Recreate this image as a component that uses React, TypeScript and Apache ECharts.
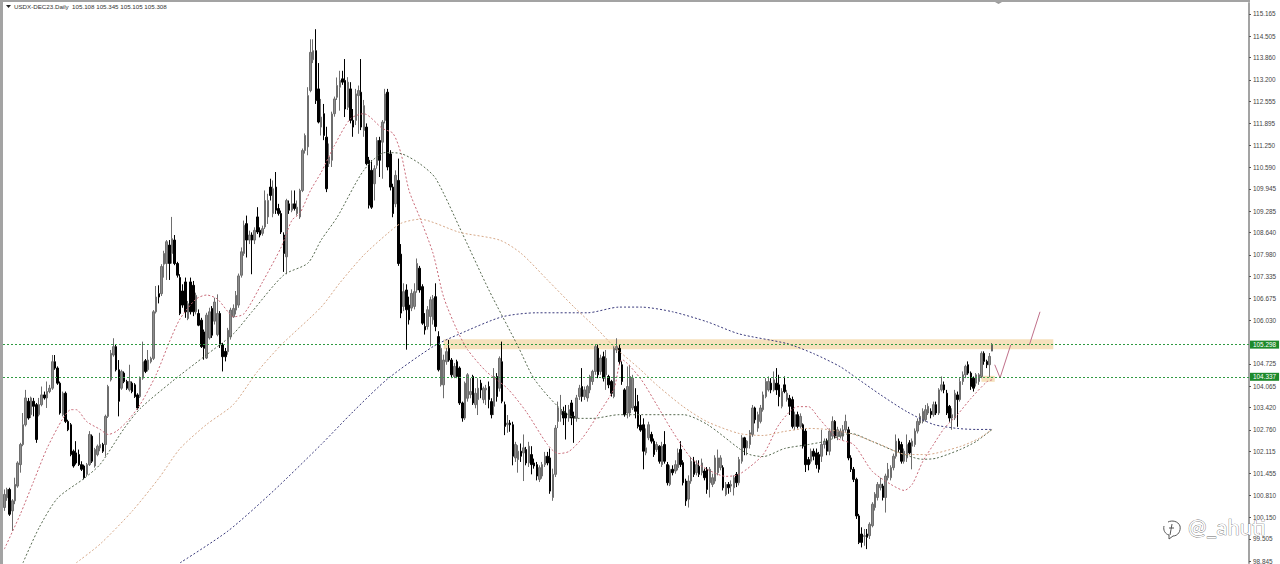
import React, { useEffect, useRef } from "react";
import * as echarts from "echarts";

const title = "USDX-DEC23.Daily  105.108 105.345 105.105 105.308";
const tickLabels = ["115.165","114.505","113.860","113.200","112.555","111.895","111.250","110.590","109.945","109.285","108.640","107.980","107.335","106.675","106.030","104.725","104.065","103.420","102.760","102.115","101.455","100.810","100.150","99.505","98.845"];
const levels = [105.298, 104.337];
const watermark = "@_ahuti";

// open, close, low, high
const candlesRise1 = [
[100.44,100.83,100.34,100.98],[100.73,100.98,100.64,101.03],[100.98,100.24,100.19,101.03],[100.34,100.64,99.74,100.69],[100.64,101.13,100.54,101.33],[101.08,101.77,101.03,101.82],[101.72,102.32,101.48,102.37],[102.32,102.91,102.27,103.26],[102.91,103.71,102.86,103.95],[103.61,103.11,103.06,103.71],
[103.21,103.71,103.11,103.75],[103.61,103.46,103.16,103.71],[103.51,102.47,102.37,103.56],[103.21,103.51,103.16,103.71],[103.51,103.80,103.46,104.05],[103.80,103.71,103.66,103.90],[103.71,103.90,103.41,104.20],[103.90,104.00,103.85,104.10],[104.00,104.79,103.95,104.99],[104.79,104.60,104.55,104.99],
[104.60,104.15,104.10,104.65],[104.15,103.26,103.21,104.20],[103.21,103.85,103.16,103.90],[103.85,103.01,102.96,103.90],[103.01,102.76,102.72,103.06],[102.91,102.02,101.97,102.96],[102.12,101.68,101.63,102.17],[102.07,101.77,101.72,102.42],[102.02,101.72,101.68,102.17],[101.72,101.58,101.53,101.82],
[101.68,101.33,101.28,101.72],[101.43,101.72,101.38,101.77],[101.72,102.62,101.68,102.72],[102.57,101.82,101.77,102.62],[101.68,102.17,101.63,102.22],[102.02,102.27,101.97,102.32],[102.22,102.32,102.12,102.67],[102.32,102.12,102.07,102.37],[102.32,103.16,101.97,103.21],[103.16,104.05,103.11,104.10],
[104.25,105.04,104.20,105.14],[104.99,105.24,104.94,105.49],[105.24,104.55,104.50,105.29],[104.55,103.61,103.16,104.84],[104.00,104.50,103.95,104.55],[104.45,104.20,104.15,104.50],[104.20,104.00,103.95,104.25],[103.95,104.20,103.90,104.70],[104.15,103.90,103.85,104.20],[104.10,103.75,103.71,104.15],
[103.80,103.41,103.36,103.85],[103.75,104.30,103.71,104.35],[104.30,104.79,104.25,105.39],[104.82,104.50,104.45,104.87],[104.55,104.84,104.50,105.14],[104.79,104.89,104.74,104.94],[104.89,106.28,104.84,106.33],[106.28,106.72,106.23,107.05],[106.82,106.72,106.53,107.07],[106.82,107.63,106.75,107.70],
];
const candlesRise2 = [
[107.70,108.02,107.30,108.10],[107.72,108.37,107.23,108.42],[108.27,107.72,107.23,108.42],[108.02,108.46,107.72,109.11],[108.42,107.72,107.67,108.57],[107.72,107.37,107.30,107.77],[107.30,106.23,106.18,107.40],[106.90,106.48,106.40,107.10],[107.17,106.28,106.10,107.30],[106.08,106.52,106.03,106.60],
[107.17,106.28,106.20,107.30],[107.07,106.28,106.15,107.20],[106.28,106.77,106.20,106.85],[106.23,105.88,105.85,106.35],[106.03,105.24,105.20,106.10],[105.68,105.19,104.85,105.75],[104.90,106.18,104.87,106.25],[105.50,106.28,105.45,106.40],[106.38,105.58,105.50,106.45],[106.00,106.57,105.90,106.70],
[105.60,106.23,105.55,106.80],[106.23,105.29,105.20,106.30],[105.29,104.94,104.50,105.35],[105.10,104.94,104.80,105.20],[105.09,105.73,105.00,105.80],[105.53,106.33,105.45,106.40],[106.13,106.38,106.10,106.50],[106.33,106.77,106.20,106.90],[106.48,107.35,106.40,107.42],[107.37,108.07,107.30,108.20],
[108.02,108.86,107.95,109.00],[108.91,108.42,107.90,109.15],[108.42,108.57,108.30,108.70],[108.57,108.42,107.40,108.65],[108.42,108.71,108.30,108.80],[109.11,108.66,108.60,109.40],[108.71,108.57,108.50,108.80],[108.62,108.76,108.55,108.85],[108.81,109.60,108.75,109.90],[109.11,109.60,108.90,109.80],
[110.00,109.75,109.60,110.25],[109.21,109.95,109.10,110.20],[110.00,109.31,109.20,110.45],[109.36,109.21,109.15,109.50],[109.21,108.66,108.60,109.30],[108.57,108.02,107.47,108.65],[107.92,109.60,107.40,109.65],[109.50,109.31,109.20,109.60],[109.31,109.50,109.25,109.90],[109.50,109.36,109.30,109.90],
[109.21,109.40,109.15,109.60],[109.11,109.90,109.05,109.95],[109.90,111.09,109.85,111.15],[111.09,111.54,111.00,111.60],[111.20,112.73,110.95,112.98],[112.88,114.02,112.83,114.41],[113.80,114.07,113.70,114.41],[114.07,112.58,112.48,114.71],[112.93,111.94,111.90,113.70],[111.79,112.09,111.54,112.63],
];
const candlesTop = [
[112.19,111.54,111.40,112.48],[111.49,109.95,109.85,111.80],[110.70,110.90,110.60,111.30],[110.80,112.18,110.60,112.25],[112.19,112.63,112.10,112.70],[112.68,113.03,112.60,113.27],[112.98,113.18,112.28,113.47],[113.23,113.13,113.05,113.47],[113.18,112.33,112.09,113.82],[112.38,113.13,112.30,113.28],
[112.93,111.99,111.90,113.13],[111.99,111.79,111.50,112.33],[111.99,112.78,111.85,112.93],[112.73,112.88,111.59,113.03],[112.83,111.79,111.70,113.82],[111.69,112.43,111.50,112.60],[111.79,110.70,110.65,111.90],[110.80,109.46,109.36,110.90],[110.50,109.40,109.35,110.80],[110.10,110.55,109.60,110.65],
[110.65,111.39,110.55,111.49],[111.39,110.80,110.30,111.50],[111.34,111.94,110.25,112.00],[111.99,112.78,111.90,112.93],[112.83,110.60,110.50,112.93],[110.99,110.00,109.90,111.10],[110.00,109.21,109.10,110.10],[109.50,110.35,109.40,110.50],[110.20,107.72,107.65,110.85],[108.00,106.24,106.09,108.30],
[106.44,106.88,106.30,107.13],[106.93,106.34,105.15,107.10],[106.48,106.04,105.90,106.73],[106.39,106.83,106.30,106.95],[106.44,106.88,106.35,107.13],[106.93,107.72,106.85,107.87],[107.58,106.93,106.85,107.65],[107.03,105.94,105.89,107.10],[105.84,105.74,105.60,106.24],[105.84,106.34,105.75,106.45],
[106.14,106.64,105.25,106.73],[106.04,106.68,105.90,106.78],[106.73,105.84,105.70,107.13],
];
const candlesRange1 = [
[105.54,104.55,104.50,105.70],[104.10,105.19,104.05,105.30],[104.10,104.84,103.70,105.00],[104.79,105.09,104.70,105.20],[105.19,104.84,104.79,105.44],[104.84,104.40,104.30,104.90],[104.35,104.65,104.30,104.75],[104.79,104.35,104.30,104.85],[104.60,103.56,103.50,104.65],[103.56,103.11,103.00,103.60],
[103.11,104.15,103.05,104.20],[103.70,104.40,103.60,104.45],[103.81,103.90,103.70,104.30],[104.35,103.56,103.50,104.40],[103.51,103.85,103.40,104.00],[103.66,104.00,103.20,104.30],[104.15,103.95,103.70,104.25],[103.66,104.00,103.55,104.05],[103.95,104.00,103.50,104.10],[104.05,103.66,103.40,104.20],
[103.60,103.21,103.10,103.70],[103.46,104.35,103.20,104.60],[104.35,103.75,103.60,104.45],[104.00,104.89,103.90,104.95],[104.79,103.61,103.55,105.39],[103.51,102.86,102.60,103.60],[102.91,102.96,102.67,103.20],[102.96,102.91,102.70,103.05],[102.91,101.97,101.70,103.00],[101.92,102.32,101.80,102.40],
[101.87,102.12,101.48,102.30],[102.12,101.97,101.80,102.35],[102.07,102.22,101.23,102.62],[102.17,101.77,101.70,102.25],[101.77,102.27,101.65,102.40],[102.02,101.72,101.43,102.27],[101.77,101.68,101.60,101.90],[101.72,101.38,101.25,101.80],[101.28,101.63,101.20,101.70],[101.38,101.72,101.30,101.80],
[101.72,101.97,101.65,102.10],[101.97,101.77,101.70,102.10],[101.92,100.93,100.85,102.20],[100.74,101.43,100.64,101.60],[101.43,102.81,101.35,102.90],
];
const candlesRange2 = [
[103.01,103.41,102.81,103.60],[103.21,103.36,103.00,103.80],[103.31,103.11,102.90,103.45],[103.26,103.11,102.47,103.50],[103.11,103.36,103.00,103.50],[103.56,103.11,102.90,103.65],[103.16,103.11,102.37,103.30],[103.11,103.71,103.00,103.80],[103.75,104.00,103.65,104.10],[104.05,103.75,103.60,104.60],
[103.75,103.95,103.65,104.05],[103.71,104.05,103.60,104.10],[103.95,104.35,103.85,104.40],[104.20,104.50,104.10,104.55],[104.50,105.24,104.40,105.30],[105.19,104.40,104.30,105.30],[104.50,104.90,104.40,105.00],[104.94,104.30,104.20,105.09],[104.40,104.89,103.95,105.14],[104.35,104.10,104.00,104.40],
[104.20,103.85,103.75,104.25],[103.75,105.19,103.70,105.25],[105.14,105.24,105.05,105.49],[105.19,104.79,104.70,105.30],[104.70,104.20,104.10,104.80],[103.95,103.21,103.15,104.00],[103.26,104.05,103.10,104.65],[103.26,104.35,103.15,104.70],[103.41,104.30,103.35,104.40],[103.46,103.31,103.10,104.00],
[103.60,102.86,102.80,103.80],[102.90,102.75,102.70,103.20],[102.91,102.12,101.58,103.10],[102.07,102.22,102.00,102.80],[102.52,102.91,102.45,103.00],[102.62,102.42,102.35,102.70],[102.42,102.02,101.95,102.50],[102.17,102.32,102.10,102.40],[102.27,101.82,101.75,102.30],[101.72,102.27,101.65,102.40],
[102.32,101.82,101.75,102.72],[101.72,101.18,101.10,101.80],[101.13,101.58,101.08,101.70],[101.58,101.48,101.40,101.70],[101.53,101.72,101.45,101.85],[101.63,102.07,101.55,102.20],[102.17,101.72,101.65,102.42],[101.78,101.18,101.10,101.85],[101.23,100.64,100.49,101.30],[100.69,101.23,100.44,101.40],
[101.23,101.82,101.15,101.95],[101.82,101.43,101.35,101.95],[101.48,101.72,101.40,101.85],[101.67,101.43,101.35,101.85],[101.48,101.77,101.40,101.90],[101.53,101.33,101.25,101.60],[101.58,100.98,100.85,101.65],[101.18,101.58,100.74,101.65],[101.13,101.33,101.05,101.45],[101.23,101.92,101.15,102.00],
[101.48,101.92,101.40,102.17],[101.63,101.92,101.55,102.00],[101.63,101.03,100.95,101.70],[100.83,101.13,100.78,101.20],[101.13,101.03,100.85,101.20],[101.08,101.13,100.90,101.25],[101.03,101.33,100.80,101.40],[101.43,101.18,101.05,101.50],[101.18,101.87,101.10,101.95],[101.82,102.52,101.75,102.60],
];
const candlesRange3 = [
[102.52,102.22,102.00,102.55],[102.22,102.42,102.00,102.45],[102.32,102.67,102.20,102.75],[102.62,103.41,102.55,103.50],[103.41,103.06,102.95,103.45],[102.81,103.21,102.70,103.30],[103.01,103.41,102.95,103.50],[103.36,103.80,103.30,103.90],[103.75,104.20,103.70,104.30],[103.95,104.20,103.90,104.35],
[104.15,103.95,103.85,104.30],[103.95,104.25,103.90,104.50],[104.15,103.95,103.80,104.60],[104.10,103.75,103.46,104.40],[103.46,103.90,103.40,104.00],[104.10,103.90,103.85,104.35],[103.66,103.85,103.60,103.95],[103.70,103.46,103.20,103.80],[103.66,102.86,102.80,103.75],[102.86,103.21,102.75,103.30],
[103.21,102.86,102.80,103.30],[102.86,103.16,102.80,103.25],[102.91,102.27,102.20,102.95],[102.72,101.72,101.50,102.80],[101.87,101.72,101.55,101.95],[101.82,102.12,101.75,102.20],[102.12,101.97,101.85,102.20],[102.07,101.72,101.60,102.20],[102.02,101.58,101.48,102.10],[101.97,102.32,101.80,102.76],
[102.32,102.42,102.20,102.50],[102.42,102.12,102.00,102.50],[102.12,102.72,102.00,102.80],[102.57,103.01,102.50,103.16],[103.01,102.57,102.50,103.05],[102.57,102.76,102.45,102.85],[102.57,102.72,102.50,102.80],[102.57,102.76,102.45,102.90],[102.76,103.01,102.70,103.21],[102.76,101.92,101.85,102.85],
];
const candlesDip = [
[101.92,101.58,101.50,102.00],[101.58,101.28,101.20,101.65],[101.28,100.19,100.10,101.33],[100.19,99.40,99.35,100.25],[99.65,99.40,99.25,99.85],[99.58,99.60,99.30,99.80],[99.65,99.55,99.20,99.80],[99.60,99.94,99.50,100.00],[99.90,100.54,99.85,100.60],[100.44,100.84,100.35,100.90],
[100.74,101.13,100.65,101.20],[101.03,101.13,100.95,101.33],[101.08,100.74,100.65,101.15],[100.74,101.38,100.29,101.45],[101.33,101.58,101.25,101.77],[101.33,101.63,101.25,101.70],[101.63,101.97,101.55,102.05],[101.97,102.42,101.90,102.62],[102.42,102.17,102.10,102.50],[102.32,101.82,101.75,102.40],
[101.82,102.12,101.75,102.20],[101.92,102.32,101.80,102.62],[102.37,102.07,102.00,102.45],[102.27,102.42,101.58,102.50],[102.32,102.72,102.25,102.80],[102.72,103.01,102.65,103.10],[102.96,103.16,102.90,103.25],[103.01,103.31,102.95,103.40],[103.06,103.36,103.00,103.50],[103.26,103.46,103.20,103.55],
[103.31,103.21,103.10,103.40],[103.21,103.51,103.15,103.60],[103.51,103.26,103.20,103.60],[103.26,103.95,103.20,104.00],[103.95,104.10,103.90,104.35],[104.10,103.95,103.85,104.20],[103.85,103.26,103.20,103.95],[103.46,103.11,103.00,103.50],[103.11,103.21,102.76,103.40],[103.11,103.85,103.05,103.95],
[103.80,103.66,102.85,103.90],[103.66,104.20,103.60,104.30],[104.20,104.40,104.10,104.50],[104.40,104.65,104.30,104.70],[104.70,104.45,104.40,104.80],[104.45,104.05,103.95,104.50],[104.30,104.00,103.90,104.35],[104.15,104.40,104.05,104.45],[104.20,104.40,104.10,104.45],[104.35,105.04,104.30,105.10],
[105.04,104.80,104.70,105.10],[104.80,104.70,104.60,104.85],[104.70,104.95,104.33,105.05],[105.108,105.308,105.105,105.345],
];

const maFast = [[0,99.2],[6,100.24],[11,101.22],[16,102.2],[22,103.1],[25,103.36],[27,103.36],[31,103.0],[36,102.77],[39,102.62],[42,102.71],[46,103.0],[51,103.51],[57,104.4],[62,105.38],[66,106.07],[72,106.66],[76,106.78],[80,106.66],[84,106.28],[86,106.13],[90,106.22],[97,107.17],[104,108.21],[108,109.01],[111,109.22],[115,109.9],[119,110.44],[124,111.24],[130,112.04],[135,112.19],[142,111.75],[146,111.6],[149,111.0],[152,109.9],[156,109.1],[161,108.03],[165,106.72],[170,105.74],[174,105.15],[181,104.5],[189,103.99],[196,103.3],[204,102.32],[208,102.05],[212,102.11],[217,102.5],[223,103.21],[229,103.99],[232,104.85],[239,104.28],[245,103.51],[251,102.71],[258,101.91],[264,101.58],[271,101.37],[276,101.43],[285,102.02],[291,102.92],[298,103.45],[302,103.45],[306,103.1],[313,102.5],[319,102.32],[326,101.52],[333,101.13],[338,100.95],[341,101.13],[345,101.82],[349,102.32],[353,102.8],[358,103.21],[363,103.69],[369,104.19],[371,104.25]];
const maMid = [[7,98.79],[13,99.83],[20,100.72],[30,101.31],[36,101.73],[45,102.8],[51,103.39],[63,104.2],[76,105.0],[86,105.62],[93,106.28],[105,107.38],[114,107.73],[119,108.42],[125,109.1],[135,110.5],[143,111.03],[149,111.0],[156,110.7],[162,110.26],[172,108.62],[182,106.93],[193,105.24],[199,104.28],[208,103.45],[215,103.1],[221,103.1],[231,103.21],[239,103.21],[248,103.21],[255,103.21],[264,102.92],[276,102.2],[280,102.02],[285,101.96],[293,102.2],[302,102.32],[308,102.41],[318,102.65],[326,102.41],[335,102.11],[345,101.88],[350,101.91],[359,102.17],[365,102.41],[371,102.77]];
const maSlow = [[27,98.79],[36,99.35],[48,100.33],[58,101.31],[66,102.2],[76,102.92],[86,103.51],[95,104.49],[104,105.29],[119,106.42],[126,107.14],[135,107.97],[144,108.62],[149,108.92],[156,109.04],[171,108.65],[186,108.42],[194,108.03],[204,107.23],[214,106.42],[223,105.74],[229,105.24],[239,104.55],[245,104.1],[255,103.45],[264,103.0],[276,102.65],[285,102.59],[293,102.71],[302,102.8],[309,102.77],[319,102.62],[329,102.32],[339,102.02],[346,102.02],[359,102.26],[366,102.5],[371,102.77]];
const maLong = [[66,98.79],[84,99.74],[101,100.93],[119,102.32],[131,103.3],[144,104.28],[161,105.24],[171,105.62],[187,106.13],[200,106.25],[219,106.25],[231,106.42],[239,106.42],[251,106.28],[264,105.98],[276,105.62],[294,105.33],[304,105.03],[314,104.64],[320,104.31],[329,103.81],[339,103.3],[349,102.92],[358,102.8],[365,102.77],[371,102.77]];
const projectionDown = [[372,104.7],[374,104.31],[378,105.29]];
const projectionUp = [[385,105.29],[389,106.28]];
const zoneMain = { fromBar: 165, toBar: 394, top: 105.46, bottom: 105.16 };
const zoneSmall = { fromBar: 367, toBar: 372, top: 104.37, bottom: 104.19 };

const candles = [...candlesRise1, ...candlesRise2, ...candlesTop, ...candlesRange1, ...candlesRange2, ...candlesRange3, ...candlesDip];
const futureBars = 96;
const categories = Array.from({ length: candles.length + futureBars }, (_, i) => String(i));

echarts.graphic.registerShape(
  "wmLogo",
  echarts.graphic.extendPath(
    "M6 2 C10 0 16 1 18 6 C19 11 16 16 11 16 L7 19 L7 15 C3 14 1 10 2 6 M10 4 C9 8 9 11 8 15 M7 8 L12 8",
    {}
  ) as any
);

const dotted = (color: string) => ({ color, width: 1, type: [2, 2] as number[] });
const maSeries = (name: string, data: number[][], color: string) => ({
  name,
  type: "line",
  data,
  showSymbol: false,
  smooth: 0.25,
  lineStyle: dotted(color),
  z: 3,
  silent: true,
});

export default function App() {
  const ref = useRef<HTMLDivElement>(null);
  useEffect(() => {
    const chart = echarts.init(ref.current!, undefined, { renderer: "svg" });
    chart.setOption({
      animation: false,
      backgroundColor: "#ffffff",
      grid: { left: 3, right: 31, top: 3, height: 562 },
      xAxis: {
        type: "category",
        data: categories,
        show: false,
        boundaryGap: true,
      },
      yAxis: {
        type: "value",
        position: "right",
        min: 98.785,
        max: 115.492,
        scale: true,
        splitLine: { show: false },
        axisLine: { show: true, lineStyle: { color: "#a3a3a3", width: 2 } },
        axisTick: {
          show: true,
          length: 2,
          lineStyle: { color: "#555" },
          customValues: tickLabels.map(Number),
        },
        axisLabel: {
          color: "#444",
          fontFamily: "Liberation Sans",
          fontSize: 6.4,
          margin: 4,
          customValues: tickLabels.map(Number),
          formatter: (v: number) => tickLabels.find((t) => Math.abs(Number(t) - v) < 1e-6) ?? "",
        },
      },
      series: [
        {
          name: "USDX",
          type: "candlestick",
          barWidth: 2,
          z: 2,
          silent: true,
          data: candles.map((c, i) =>
            i === candles.length - 1
              ? { value: c, itemStyle: { color: "#ffffff", color0: "#ffffff", borderColor: "#666", borderColor0: "#666" } }
              : c
          ),
          itemStyle: {
            color: "#8c8c8c",
            color0: "#000000",
            borderColor: "#6e6e6e",
            borderColor0: "#000000",
            borderWidth: 1,
          },
          markArea: {
            silent: true,
            itemStyle: { color: "#f6e1bd" },
            data: [zoneMain, zoneSmall].map((z) => [
              { xAxis: z.fromBar, yAxis: z.top },
              { xAxis: z.toBar, yAxis: z.bottom },
            ]),
          },
          markLine: {
            silent: true,
            symbol: "none",
            animation: false,
            lineStyle: { color: "#2f9a42", width: 1, type: [2, 2] },
            label: {
              show: true,
              position: "end",
              distance: 1,
              color: "#ffffff",
              backgroundColor: "#1d8a2b",
              fontFamily: "Liberation Sans",
              fontSize: 6.4,
              padding: [1, 3, 1, 3],
              formatter: (p: any) => levels[p.dataIndex].toFixed(3),
            },
            data: levels.map((v) => ({ yAxis: v })),
          },
        },
        maSeries("MA fast", maFast, "#c96a78"),
        maSeries("MA mid", maMid, "#56694f"),
        maSeries("MA slow", maSlow, "#d6a888"),
        maSeries("MA long", maLong, "#3a3a7c"),
        { name: "Projection 1", type: "line", data: projectionDown, showSymbol: false, lineStyle: { color: "#c0708a", width: 1 }, z: 4, silent: true },
        { name: "Projection 2", type: "line", data: projectionUp, showSymbol: false, lineStyle: { color: "#c0708a", width: 1 }, z: 4, silent: true },
      ],
      graphic: [
        { type: "rect", shape: { x: 0, y: 0, width: 1250, height: 2 }, style: { fill: "#a3a3a3" }, z: 10 },
        { type: "rect", shape: { x: 0, y: 0, width: 3, height: 564 }, style: { fill: "#a3a3a3" }, z: 10 },
        { type: "polygon", shape: { points: [[995, 2], [1002, 2], [998.5, 4]] }, style: { fill: "#9a9a9a" }, z: 10 },
        { type: "polygon", shape: { points: [[6, 5], [11, 5], [8.5, 8]] }, style: { fill: "#222" }, z: 10 },
        {
          type: "text",
          x: 14,
          y: 3,
          style: { text: title, fill: "#333", font: '6.2px "Liberation Sans"' },
          z: 10,
        },
        {
          type: "wmLogo",
          x: 1162,
          y: 520,
          scaleX: 1,
          scaleY: 1,
          style: { fill: "none", stroke: "#555", lineWidth: 1 },
          z: 11,
        },
        {
          type: "text",
          x: 1188,
          y: 515,
          style: { text: watermark, fill: "#ffffff", stroke: "#666", lineWidth: 0.7, font: '22px "Lato"' },
          z: 11,
        },
      ],
    });
    return () => chart.dispose();
  }, []);
  return <div ref={ref} style={{ position: "fixed", left: 0, top: 0, width: 1280, height: 564 }} />;
}
